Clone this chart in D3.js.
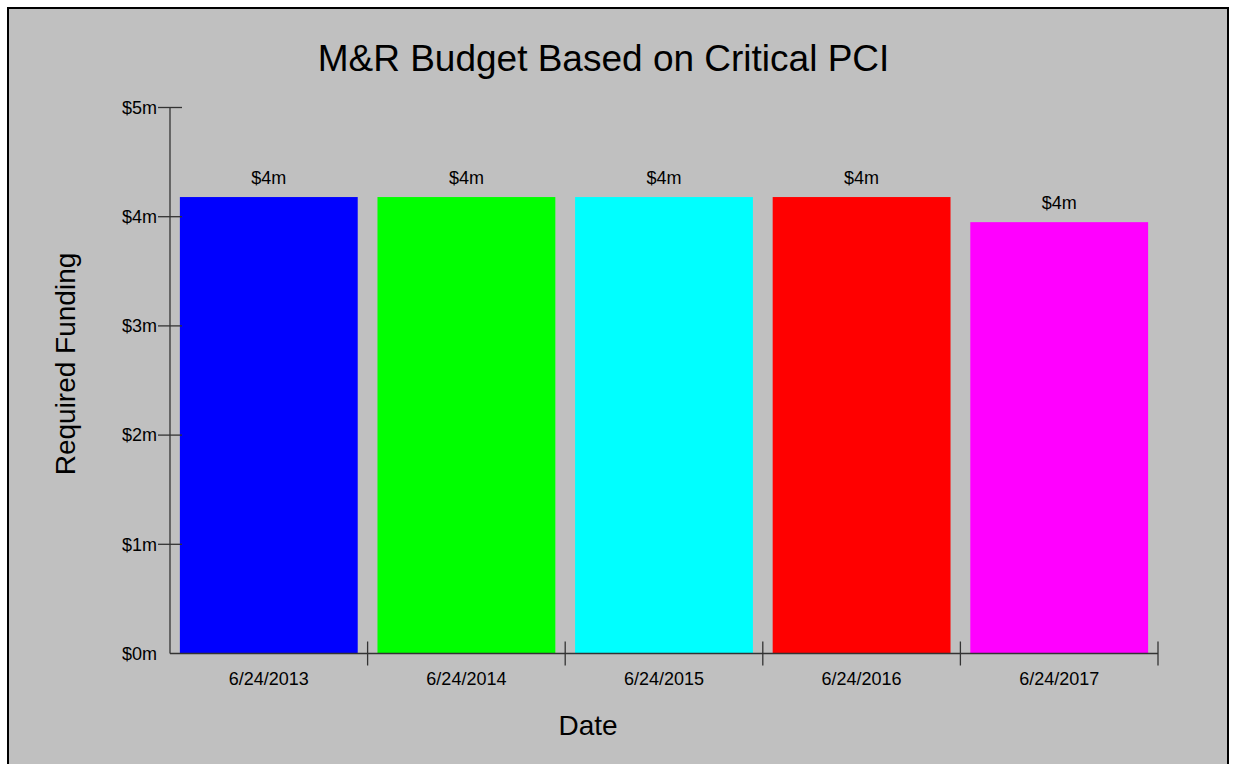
<!DOCTYPE html>
<html>
<head>
<meta charset="utf-8">
<script src="https://cdn.jsdelivr.net/npm/d3@7"></script>
<style>
  html, body { margin: 0; padding: 0; background: #ffffff; }
  svg { display: block; }
  text { font-family: "Liberation Sans", Arial, sans-serif; fill: #000; }
</style>
</head>
<body>
<svg id="chart" width="1235" height="764"></svg>
<script>
const categories = ["6/24/2013", "6/24/2014", "6/24/2015", "6/24/2016", "6/24/2017"];
const values = [4.18, 4.18, 4.18, 4.18, 3.95]; // millions of dollars
const barColors = ["#0000ff", "#00ff00", "#00ffff", "#ff0000", "#ff00ff"];
const yTickValues = [0, 1, 2, 3, 4, 5];
const titleText = "M&R Budget Based on Critical PCI";
const xTitle = "Date";
const yTitle = "Required Funding";

const svg = d3.select("#chart");

// frame / background
svg.append("rect")
  .attr("x", 8).attr("y", 8)
  .attr("width", 1220).attr("height", 800)
  .attr("fill", "#c0c0c0")
  .attr("stroke", "#000").attr("stroke-width", 2);

const plot = { left: 170, right: 1158, top: 107.5, bottom: 653.5 };

const x = d3.scaleBand()
  .domain(categories)
  .range([plot.left, plot.right])
  .paddingInner(0.1)
  .paddingOuter(0.05);

const y = d3.scaleLinear()
  .domain([0, 5])
  .range([plot.bottom, plot.top]);

const fmt = v => "$" + Math.round(v) + "m";

// bars
svg.append("g").selectAll("rect")
  .data(values)
  .join("rect")
  .attr("x", (d, i) => x(categories[i]))
  .attr("y", d => y(d))
  .attr("width", x.bandwidth())
  .attr("height", d => y(0) - y(d))
  .attr("fill", (d, i) => barColors[i]);

// value labels
svg.append("g").selectAll("text")
  .data(values)
  .join("text")
  .attr("x", (d, i) => x(categories[i]) + x.bandwidth() / 2)
  .attr("y", d => y(d) - 13)
  .attr("text-anchor", "middle")
  .attr("font-size", 18)
  .text(d => fmt(d));

// y axis
const yAxis = svg.append("g");
yAxis.append("line")
  .attr("x1", plot.left).attr("x2", plot.left)
  .attr("y1", y(5)).attr("y2", y(0))
  .attr("stroke", "#333").attr("stroke-width", 1.3);
yAxis.selectAll("line.tick")
  .data(yTickValues.filter(v => v > 0))
  .join("line")
  .attr("class", "tick")
  .attr("x1", plot.left - 12).attr("x2", plot.left + 12)
  .attr("y1", d => y(d)).attr("y2", d => y(d))
  .attr("stroke", "#333").attr("stroke-width", 1.3);
yAxis.selectAll("text")
  .data(yTickValues)
  .join("text")
  .attr("x", plot.left - 13)
  .attr("y", d => y(d))
  .attr("dy", "0.35em")
  .attr("text-anchor", "end")
  .attr("font-size", 18)
  .text(d => "$" + d + "m");

// x axis
const xAxis = svg.append("g");
xAxis.append("line")
  .attr("x1", plot.left).attr("x2", plot.right)
  .attr("y1", plot.bottom).attr("y2", plot.bottom)
  .attr("stroke", "#333").attr("stroke-width", 1.3);
const step = x.step();
xAxis.selectAll("line.tick")
  .data(categories)
  .join("line")
  .attr("class", "tick")
  .attr("x1", (d, i) => plot.left + (i + 1) * (plot.right - plot.left) / categories.length)
  .attr("x2", (d, i) => plot.left + (i + 1) * (plot.right - plot.left) / categories.length)
  .attr("y1", plot.bottom - 12).attr("y2", plot.bottom + 12)
  .attr("stroke", "#333").attr("stroke-width", 1.3);
xAxis.selectAll("text")
  .data(categories)
  .join("text")
  .attr("x", d => x(d) + x.bandwidth() / 2)
  .attr("y", 685)
  .attr("text-anchor", "middle")
  .attr("font-size", 18)
  .text(d => d);

// titles
svg.append("text")
  .attr("x", 603.5).attr("y", 71)
  .attr("text-anchor", "middle")
  .attr("font-size", 37)
  .text(titleText);

svg.append("text")
  .attr("x", 588).attr("y", 735)
  .attr("text-anchor", "middle")
  .attr("font-size", 28)
  .text(xTitle);

svg.append("text")
  .attr("transform", "translate(75,364) rotate(-90)")
  .attr("text-anchor", "middle")
  .attr("font-size", 28)
  .text(yTitle);
</script>
</body>
</html>
